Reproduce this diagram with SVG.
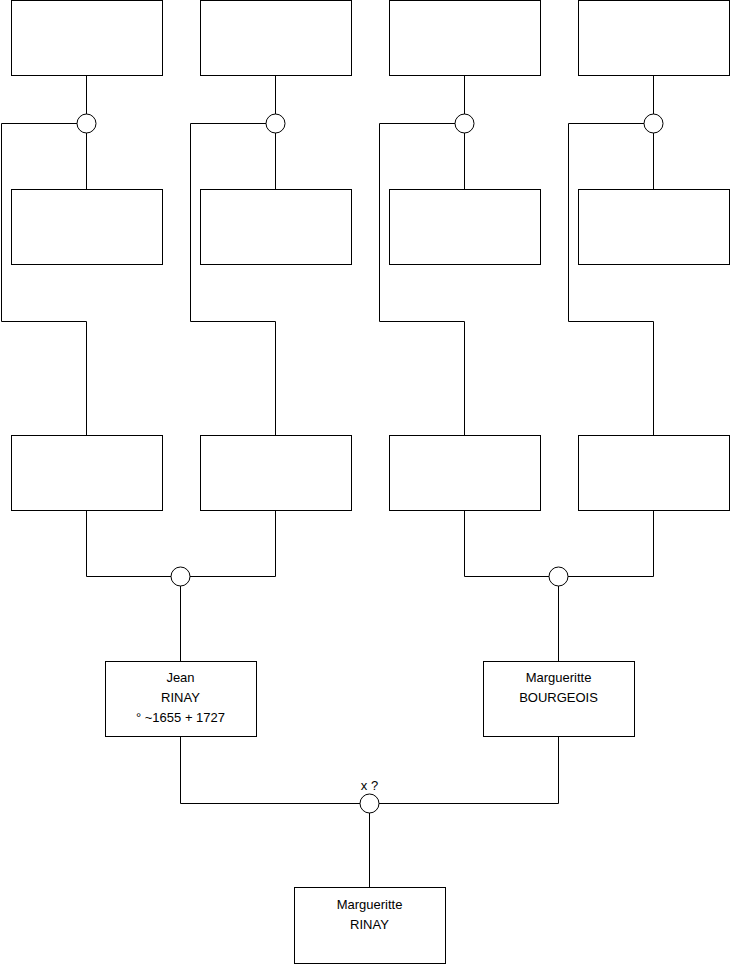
<svg xmlns="http://www.w3.org/2000/svg" width="740" height="975" viewBox="0 0 740 975">
<style>
.box{fill:#fff;stroke:#000;stroke-width:1}
.c{fill:#fff;stroke:#000;stroke-width:1}
.ln{fill:none;stroke:#000;stroke-width:1}
text{font-family:"Liberation Sans",Arial,sans-serif;font-size:13px;fill:#000;text-anchor:middle}
</style>
<rect width="740" height="975" fill="#fff"/>
<g id="connectors">
<path class="ln" d="M86.5 76V189M86.5 123.5H1.5V321.5H86.5V435.5"/>
<path class="ln" d="M275.5 76V189M275.5 123.5H190.5V321.5H275.5V435.5"/>
<path class="ln" d="M464.5 76V189M464.5 123.5H379.5V321.5H464.5V435.5"/>
<path class="ln" d="M653.5 76V189M653.5 123.5H568.5V321.5H653.5V435.5"/>
<path class="ln" d="M86.5 511V576.5H275.5V511M180.5 576.5V661.5"/>
<path class="ln" d="M464.5 511V576.5H653.5V511M558.5 576.5V661.5"/>
<path class="ln" d="M180.5 737V803.5H558.5V737M369.5 803.5V887.5"/>
<circle class="c" cx="86.5" cy="123.5" r="9.5"/>
<circle class="c" cx="275.5" cy="123.5" r="9.5"/>
<circle class="c" cx="464.5" cy="123.5" r="9.5"/>
<circle class="c" cx="653.5" cy="123.5" r="9.5"/>
<circle class="c" cx="180.5" cy="576.5" r="9.5"/>
<circle class="c" cx="558.5" cy="576.5" r="9.5"/>
<circle class="c" cx="369.5" cy="803.5" r="9.5"/>
<text x="369.5" y="790">x ?</text>
</g>
<g id="n1"><rect class="box" x="11.5" y="0.5" width="151" height="75"/></g>
<g id="n2"><rect class="box" x="200.5" y="0.5" width="151" height="75"/></g>
<g id="n3"><rect class="box" x="389.5" y="0.5" width="151" height="75"/></g>
<g id="n4"><rect class="box" x="578.5" y="0.5" width="151" height="75"/></g>
<g id="n5"><rect class="box" x="11.5" y="189.5" width="151" height="75"/></g>
<g id="n6"><rect class="box" x="200.5" y="189.5" width="151" height="75"/></g>
<g id="n7"><rect class="box" x="389.5" y="189.5" width="151" height="75"/></g>
<g id="n8"><rect class="box" x="578.5" y="189.5" width="151" height="75"/></g>
<g id="n9"><rect class="box" x="11.5" y="435.5" width="151" height="75"/></g>
<g id="n10"><rect class="box" x="200.5" y="435.5" width="151" height="75"/></g>
<g id="n11"><rect class="box" x="389.5" y="435.5" width="151" height="75"/></g>
<g id="n12"><rect class="box" x="578.5" y="435.5" width="151" height="75"/></g>
<g id="jean"><rect class="box" x="105.5" y="661.5" width="151" height="75"/>
<text x="180.5" y="682">Jean</text><text x="180.5" y="702">RINAY</text><text x="180.5" y="722">° ~1655 + 1727</text></g>
<g id="marguerite-b"><rect class="box" x="483.5" y="661.5" width="151" height="75"/>
<text x="558.5" y="682">Margueritte</text><text x="558.5" y="702">BOURGEOIS</text></g>
<g id="marguerite-r"><rect class="box" x="294.5" y="887.5" width="151" height="76"/>
<text x="369.5" y="909">Margueritte</text><text x="369.5" y="929">RINAY</text></g>
</svg>
